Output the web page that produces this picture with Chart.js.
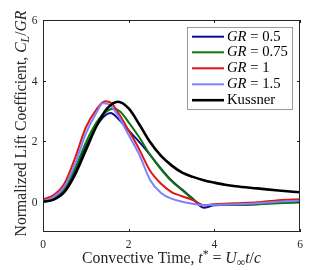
<!DOCTYPE html>
<html>
<head>
<meta charset="utf-8">
<script src="https://cdn.jsdelivr.net/npm/chart.js@4.4.1/dist/chart.umd.min.js"></script>
<style>
html,body{margin:0;padding:0;background:#fff;}
canvas{display:block;}
</style>
</head>
<body>
<canvas id="c" width="332" height="270"></canvas>
<script>
// ---- Data ----
const seriesLabels = ['GR = 0.5', 'GR = 0.75', 'GR = 1', 'GR = 1.5', 'Kussner'];

const t_GR05  = [0, 0.25, 0.5, 0.75, 1.0, 1.25, 1.45, 1.58, 1.75, 2.0, 2.25, 2.5, 2.75, 3.0, 3.25, 3.5, 3.75, 4.0, 4.5, 5.0, 5.5, 6.0];
const cl_GR05 = [0.05, 0.12, 0.4, 1.02, 1.82, 2.5, 2.85, 2.93, 2.75, 2.35, 1.97, 1.55, 1.1, 0.7, 0.4, 0.1, -0.2, -0.12, -0.1, -0.08, -0.02, 0.02];

const t_GR075  = [0, 0.25, 0.5, 0.75, 1.0, 1.25, 1.5, 1.65, 1.8, 2.0, 2.25, 2.5, 2.75, 3.0, 3.25, 3.5, 3.75, 4.0, 4.5, 5.0, 5.5, 6.0];
const cl_GR075 = [0.03, 0.12, 0.42, 1.1, 1.95, 2.62, 3.0, 3.07, 2.98, 2.62, 2.12, 1.55, 1.08, 0.68, 0.38, 0.08, -0.12, -0.1, -0.1, -0.08, -0.05, -0.03];

const t_GR1  = [0, 0.25, 0.5, 0.75, 1.0, 1.25, 1.45, 1.6, 1.75, 2.0, 2.25, 2.5, 2.75, 3.0, 3.25, 3.5, 3.75, 4.0, 4.5, 5.0, 5.5, 6.0];
const cl_GR1 = [0.08, 0.22, 0.6, 1.45, 2.45, 3.05, 3.32, 3.25, 2.95, 2.35, 1.72, 1.02, 0.6, 0.32, 0.18, 0.05, -0.12, -0.08, -0.05, -0.02, 0.05, 0.08];

const t_GR15  = [0, 0.25, 0.5, 0.75, 1.0, 1.25, 1.4, 1.55, 1.75, 2.0, 2.25, 2.5, 2.75, 3.0, 3.25, 3.5, 3.75, 4.0, 4.5, 5.0, 5.5, 6.0];
const cl_GR15 = [0.02, 0.15, 0.5, 1.25, 2.25, 2.95, 3.25, 3.2, 2.85, 2.2, 1.55, 0.72, 0.3, 0.1, 0.0, -0.07, -0.12, -0.1, -0.08, -0.05, 0.0, 0.03];

const t_Kussner  = [0, 0.25, 0.5, 0.75, 1.0, 1.25, 1.5, 1.75, 2.0, 2.25, 2.5, 2.75, 3.0, 3.25, 3.5, 3.75, 4.0, 4.25, 4.5, 5.0, 5.5, 6.0];
const cl_Kussner = [0, 0.07, 0.32, 0.9, 1.7, 2.5, 3.08, 3.3, 3.08, 2.55, 1.97, 1.52, 1.2, 0.96, 0.82, 0.71, 0.63, 0.56, 0.51, 0.44, 0.37, 0.31];

const xTickValues = [0, 2, 4, 6];
const xTickLabels = ['0', '2', '4', '6'];
const yTickValues = [0, 2, 4, 6];
const yTickLabels = ['0', '2', '4', '6'];

const colors = ['#0c0c8a', '#0a7a0a', '#e01515', '#8080ff', '#000000'];

// ---- helpers ----
const SERIF = '"Liberation Serif", "DejaVu Serif", serif';
function pts(t, v) { return t.map((x, i) => ({ x: x, y: v[i] })); }

function richWidth(ctx, segs, size) {
  let w = 0;
  segs.forEach(s => {
    const sz = size * (s.scale || 1);
    ctx.font = (s.italic ? 'italic ' : '') + sz + 'px ' + SERIF;
    w += ctx.measureText(s.text).width;
  });
  return w;
}
function fitSize(ctx, segs, target) {
  return 12 * target / richWidth(ctx, segs, 12);
}
function drawRich(ctx, segs, x, y, size, color) {
  ctx.fillStyle = color;
  ctx.textBaseline = 'alphabetic';
  ctx.textAlign = 'left';
  let cx = x;
  segs.forEach(s => {
    const sz = size * (s.scale || 1);
    ctx.font = (s.italic ? 'italic ' : '') + sz + 'px ' + SERIF;
    ctx.fillText(s.text, cx, y + (s.dy || 0) * size);
    cx += ctx.measureText(s.text).width;
  });
}
function labelSegs(label) {
  if (label.startsWith('GR')) return [{ text: 'GR', italic: true }, { text: label.slice(2) }];
  return [{ text: label }];
}

const xTitleSegs = [
  { text: 'Convective Time, ' }, { text: 't', italic: true },
  { text: '*', scale: 0.75, dy: -0.3 }, { text: ' = ' },
  { text: 'U', italic: true }, { text: '\u221E', scale: 0.75, dy: 0.2 },
  { text: 't', italic: true }, { text: '/' }, { text: 'c', italic: true }
];
const yTitleSegs = [
  { text: 'Normalized Lift Coefficient, ' }, { text: 'C', italic: true },
  { text: 'L', italic: true, scale: 0.75, dy: 0.2 }, { text: '/' },
  { text: 'GR', italic: true }
];

const decorPlugin = {
  id: 'decor',
  afterDraw(chart) {
    const ctx = chart.ctx;
    const a = chart.chartArea;
    const xs = chart.scales.x, ys = chart.scales.y;
    ctx.save();
    // box
    ctx.strokeStyle = '#262626';
    ctx.lineWidth = 1;
    ctx.strokeRect(Math.round(a.left) + 0.5, Math.round(a.top) + 0.5,
                   Math.round(a.right - a.left) - 1, Math.round(a.bottom - a.top) - 1);
    // inward ticks on all sides
    const tl = 3;
    ctx.beginPath();
    xTickValues.forEach(v => {
      const px = Math.round(xs.getPixelForValue(v)) + 0.5;
      ctx.moveTo(px, a.bottom); ctx.lineTo(px, a.bottom - tl);
      ctx.moveTo(px, a.top); ctx.lineTo(px, a.top + tl);
    });
    yTickValues.forEach(v => {
      const py = Math.round(ys.getPixelForValue(v)) + 0.5;
      ctx.moveTo(a.left, py); ctx.lineTo(a.left + tl, py);
      ctx.moveTo(a.right, py); ctx.lineTo(a.right - tl, py);
    });
    ctx.stroke();

    // tick labels
    ctx.fillStyle = '#262626';
    ctx.font = '11.5px ' + SERIF;
    ctx.textBaseline = 'alphabetic';
    ctx.textAlign = 'center';
    xTickValues.forEach((v, i) => {
      ctx.fillText(xTickLabels[i], xs.getPixelForValue(v), 248);
    });
    ctx.textAlign = 'right';
    yTickValues.forEach((v, i) => {
      ctx.fillText(yTickLabels[i], a.left - 5.5, ys.getPixelForValue(v) + 4);
    });

    // axis titles
    const xs2 = fitSize(ctx, xTitleSegs, 179);
    const xw = richWidth(ctx, xTitleSegs, xs2);
    drawRich(ctx, xTitleSegs, (a.left + a.right) / 2 - xw / 2, 263, xs2, '#262626');
    const ys2 = fitSize(ctx, yTitleSegs, 226);
    const yw = richWidth(ctx, yTitleSegs, ys2);
    ctx.save();
    ctx.translate(26, 123.5);
    ctx.rotate(-Math.PI / 2);
    drawRich(ctx, yTitleSegs, -yw / 2, 0, ys2, '#262626');
    ctx.restore();

    // legend
    const L = { left: 187, top: 27, right: 293, bottom: 110 };
    ctx.fillStyle = '#ffffff';
    ctx.fillRect(L.left, L.top, L.right - L.left, L.bottom - L.top);
    ctx.strokeStyle = '#9a9a9a';
    ctx.lineWidth = 1;
    ctx.strokeRect(L.left + 0.5, L.top + 0.5, L.right - L.left - 1, L.bottom - L.top - 1);
    const rowY = [36.7, 52.3, 68.3, 84.3, 100.2];
    const lsz = fitSize(ctx, labelSegs(seriesLabels[1]), 61);
    chart.data.datasets.forEach((ds, i) => {
      const y = rowY[i];
      ctx.strokeStyle = ds.borderColor;
      ctx.lineWidth = ds.borderWidth;
      ctx.beginPath();
      ctx.moveTo(192, y); ctx.lineTo(224, y);
      ctx.stroke();
      drawRich(ctx, labelSegs(seriesLabels[i]), 227, y + 4, lsz, '#000000');
    });
    ctx.restore();
  }
};

const datasets = [
  { label: seriesLabels[0], data: pts(t_GR05, cl_GR05), borderColor: colors[0], borderWidth: 2, order: 5 },
  { label: seriesLabels[1], data: pts(t_GR075, cl_GR075), borderColor: colors[1], borderWidth: 2, order: 4 },
  { label: seriesLabels[2], data: pts(t_GR1, cl_GR1), borderColor: colors[2], borderWidth: 2, order: 3 },
  { label: seriesLabels[3], data: pts(t_GR15, cl_GR15), borderColor: colors[3], borderWidth: 2, order: 2 },
  { label: seriesLabels[4], data: pts(t_Kussner, cl_Kussner), borderColor: colors[4], borderWidth: 2.6, order: 1 }
].map(d => Object.assign(d, {
  pointRadius: 0, fill: false, showLine: true, cubicInterpolationMode: 'monotone'
}));

new Chart(document.getElementById('c'), {
  type: 'scatter',
  data: { datasets: datasets },
  options: {
    responsive: false,
    animation: false,
    devicePixelRatio: 1,
    layout: { padding: { top: 20, right: 32, left: 0, bottom: 0 } },
    plugins: { legend: { display: false }, tooltip: { enabled: false } },
    scales: {
      x: {
        type: 'linear', min: 0, max: 6,
        afterBuildTicks: s => { s.ticks = xTickValues.map(v => ({ value: v })); },
        afterFit: s => { s.height = 38; },
        grid: { display: false },
        border: { display: false },
        ticks: { display: false }
      },
      y: {
        type: 'linear', min: -1, max: 6,
        afterBuildTicks: s => { s.ticks = yTickValues.map(v => ({ value: v })); },
        afterFit: s => { s.width = 43; },
        grid: { display: false },
        border: { display: false },
        ticks: { display: false }
      }
    }
  },
  plugins: [decorPlugin]
});
</script>
</body>
</html>
